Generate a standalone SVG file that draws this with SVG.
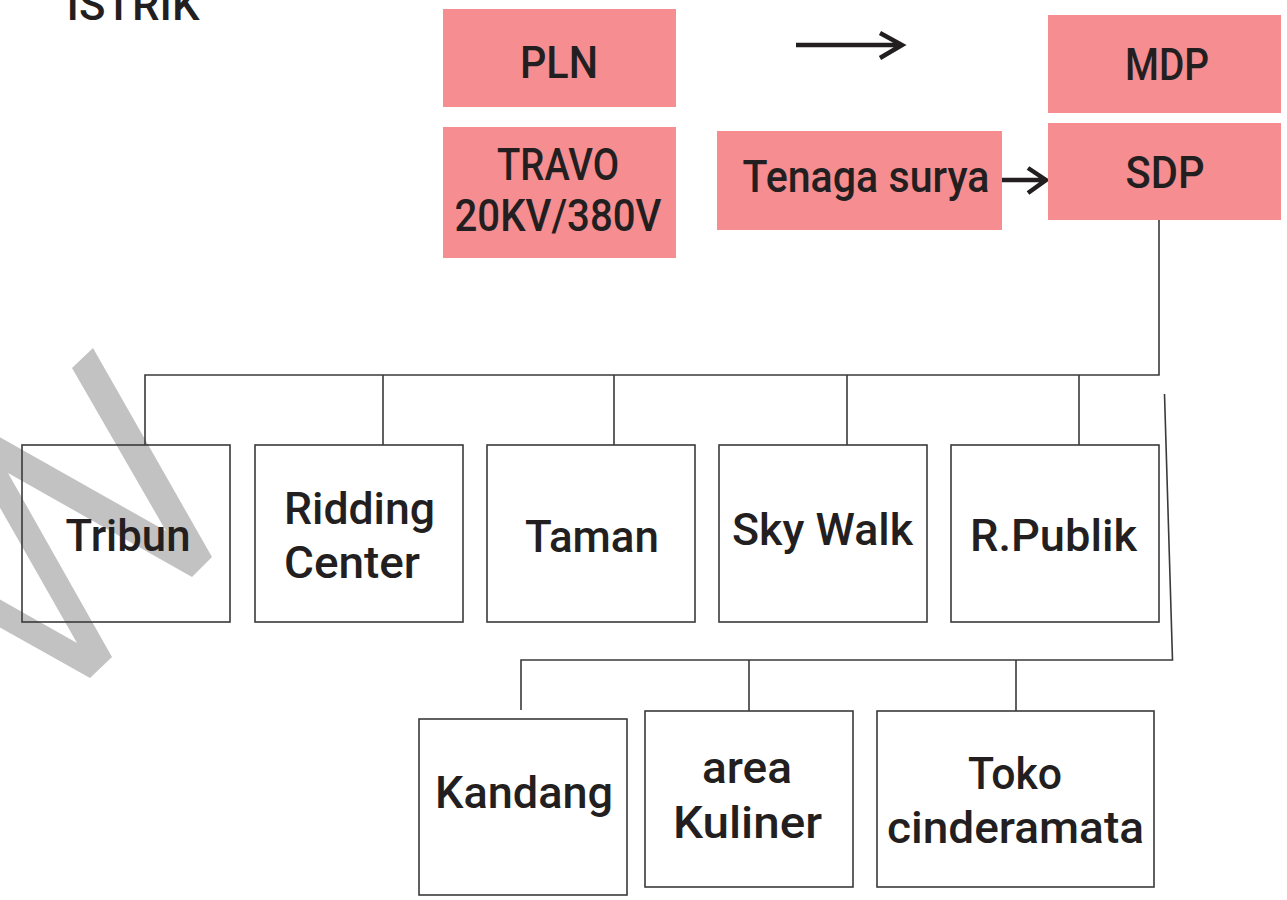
<svg xmlns="http://www.w3.org/2000/svg" width="1287" height="900" viewBox="0 0 1287 900">
<style>
.pink{fill:#f58d91;}
.box{fill:none;stroke:#3a3a3a;stroke-width:1.6;}
.ln{fill:none;stroke:#3a3a3a;stroke-width:1.6;}
.arr{fill:none;stroke:#231f20;stroke-width:4.5;}
text{font-family:Roboto,"Liberation Sans",sans-serif;font-weight:500;font-size:44px;fill:#231f20;text-anchor:middle;}
</style>
<rect width="1287" height="900" fill="#ffffff"/>
<polygon id="watermark" fill="#c2c2c2" points="93,348 212,557 192,577 8,473 112,657 90,678 -40,605 -40,577 77,643 -59,404 166,531 72,368"/>
<text x="133" y="20" textLength="133" lengthAdjust="spacingAndGlyphs">ISTRIK</text>
<g id="connectors">
<path class="arr" d="M796,45 H902 M880,33 L902,45 L880,58"/>
<path class="arr" d="M1002,180 H1046 M1028,168 L1046,180 L1028,193"/>
<path class="ln" d="M1159,220 V375 H145 V445 M383,375 V445 M614,375 V445 M847,375 V445 M1079,375 V445"/>
<path class="ln" d="M1164.5,394 L1172.5,660 H521 V710 M749,660 V711 M1016,660 V711"/>
</g>
<g id="pln"><rect class="pink" x="443" y="9" width="233" height="98"/><text x="559" y="78" textLength="78" lengthAdjust="spacingAndGlyphs">PLN</text></g>
<g id="travo"><rect class="pink" x="443" y="127" width="233" height="131"/><text x="558" y="180" textLength="122" lengthAdjust="spacingAndGlyphs">TRAVO</text><text x="558" y="231" textLength="207" lengthAdjust="spacingAndGlyphs">20KV/380V</text></g>
<g id="mdp"><rect class="pink" x="1048" y="15" width="233" height="98"/><text x="1167" y="80" textLength="84" lengthAdjust="spacingAndGlyphs">MDP</text></g>
<g id="sdp"><rect class="pink" x="1048" y="123" width="233" height="97"/><text x="1165" y="188" textLength="79" lengthAdjust="spacingAndGlyphs">SDP</text></g>
<g id="tenaga"><rect class="pink" x="717" y="131" width="285" height="99"/><text x="866" y="192" textLength="247" lengthAdjust="spacingAndGlyphs">Tenaga surya</text></g>
<g id="tribun"><rect class="box" x="22" y="445" width="208" height="177"/><text x="128" y="551" textLength="125" lengthAdjust="spacingAndGlyphs">Tribun</text></g>
<g id="ridding"><rect class="box" x="255" y="445" width="208" height="177"/><text x="359.5" y="524" textLength="151" lengthAdjust="spacingAndGlyphs">Ridding</text><text x="352" y="578" textLength="136" lengthAdjust="spacingAndGlyphs">Center</text></g>
<g id="taman"><rect class="box" x="487" y="445" width="208" height="177"/><text x="592" y="552" textLength="134" lengthAdjust="spacingAndGlyphs">Taman</text></g>
<g id="skywalk"><rect class="box" x="719" y="445" width="208" height="177"/><text x="822.5" y="545" textLength="181" lengthAdjust="spacingAndGlyphs">Sky Walk</text></g>
<g id="rpublik"><rect class="box" x="951" y="445" width="208" height="177"/><text x="1053.5" y="551" textLength="167" lengthAdjust="spacingAndGlyphs">R.Publik</text></g>
<g id="kandang"><rect class="box" x="419" y="719" width="208" height="176"/><text x="524" y="808" textLength="178" lengthAdjust="spacingAndGlyphs">Kandang</text></g>
<g id="kuliner"><rect class="box" x="645" y="711" width="208" height="176"/><text x="747" y="783" textLength="90" lengthAdjust="spacingAndGlyphs">area</text><text x="747.5" y="838" textLength="149" lengthAdjust="spacingAndGlyphs">Kuliner</text></g>
<g id="toko"><rect class="box" x="877" y="711" width="277" height="176"/><text x="1015" y="789" textLength="94" lengthAdjust="spacingAndGlyphs">Toko</text><text x="1015.5" y="843" textLength="257" lengthAdjust="spacingAndGlyphs">cinderamata</text></g>
</svg>
